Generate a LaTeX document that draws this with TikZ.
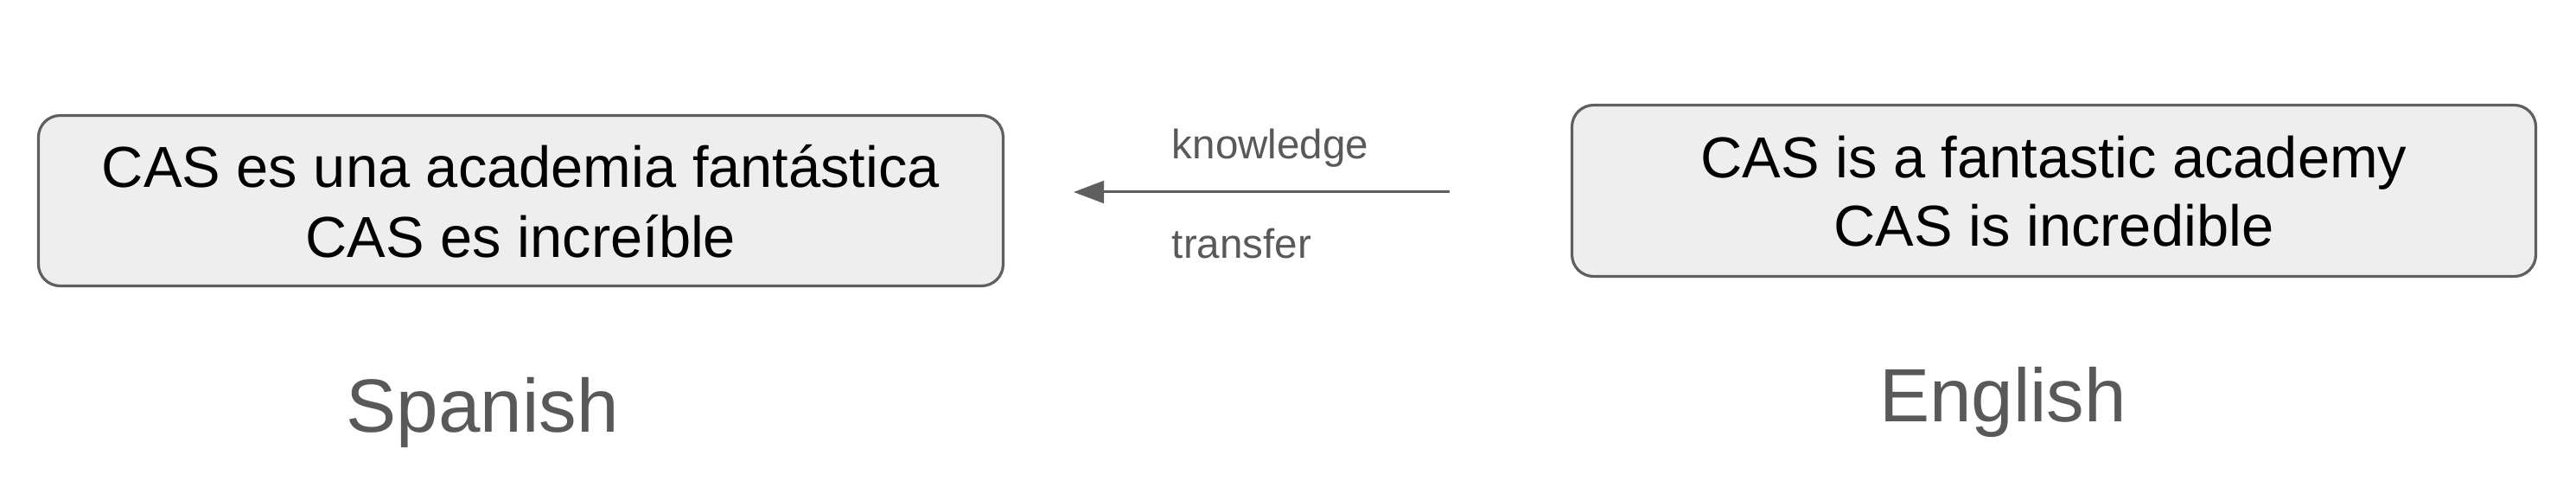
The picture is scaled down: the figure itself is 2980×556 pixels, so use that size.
\documentclass[tikz,border=0pt]{standalone}
\usepackage{fontspec}
\setmainfont{Liberation Sans}
\usetikzlibrary{arrows.meta}
\definecolor{edgegray}{HTML}{5F5F5F}
\definecolor{boxfill}{HTML}{EEEEEE}
\definecolor{labelgray}{HTML}{595959}
\tikzset{
  sentbox/.style={draw=edgegray, fill=boxfill, line width=0.8pt, rounded corners=6.25pt, rectangle, inner sep=0pt},
  senttext/.style={inner sep=0pt, anchor=base, font=\fontsize{16.7pt}{20pt}\selectfont, text=black},
  edgetext/.style={inner sep=0pt, anchor=base west, font=\fontsize{11.9pt}{14pt}\selectfont, text=labelgray},
  langtext/.style={inner sep=0pt, anchor=base, font=\fontsize{21.8pt}{26pt}\selectfont, text=labelgray},
  transferarrow/.style={draw=edgegray, line width=0.75pt, -{Triangle[length=8.75pt,width=6.4pt]}}
}
\begin{document}
\begin{tikzpicture}[x=0.25pt,y=-0.25pt]
\useasboundingbox (0,0) rectangle (2980,556);
% boxes
\node[sentbox, minimum width=279pt, minimum height=49.25pt] (es) at (602.5,232) {};
\node[sentbox, minimum width=278.75pt, minimum height=49.5pt] (en) at (2376,220.5) {};
% sentences
\node[senttext] (es1) at (602.5,217) {CAS es una academia fantástica};
\node[senttext] (es2) at (602.5,297) {CAS es increíble};
\node[senttext] (en1) at (2376,206) {CAS is a fantastic academy};
\node[senttext] (en2) at (2376,285) {CAS is incredible};
% arrow
\coordinate (tail) at (1677,222);
\coordinate (tip) at (1242,222);
\draw[transferarrow] (tail) -- (tip);
\node[edgetext] (k) at (1355,184) {knowledge};
\node[edgetext] (t) at (1355,298) {transfer};
% language labels
\node[langtext] (spanish) at (558,499) {Spanish};
\node[langtext] (english) at (2317,487) {English};
\end{tikzpicture}
\end{document}
